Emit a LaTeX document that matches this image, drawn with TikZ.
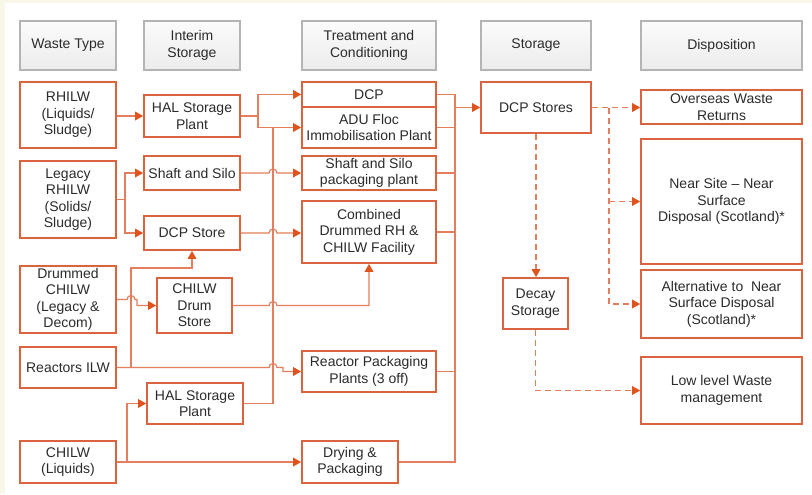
\documentclass[tikz,border=0pt]{standalone}
\usepackage{fontspec}
\setmainfont{Liberation Sans}
\usetikzlibrary{arrows.meta,calc}
\definecolor{boxc}{HTML}{DA6440}
\definecolor{linec}{HTML}{E57E5C}
\definecolor{arrc}{HTML}{E0531C}
\definecolor{hdrb}{HTML}{B4B4B4}
\definecolor{cream}{HTML}{F8F7E9}
\definecolor{txt}{HTML}{2B2B2B}
\begin{document}
\begin{tikzpicture}[x=0.75pt,y=-0.75pt,
  every node/.style={font=\fontsize{10.5}{12.4}\selectfont, text=txt, align=center, inner sep=0pt},
  sz/.style 2 args={minimum width=#1*0.75pt, minimum height=#2*0.75pt},
  box/.style={draw=boxc, line width=1.3pt, fill=white},
  hdr/.style={draw=hdrb, line width=1.4pt, top color=gray!3, bottom color=gray!15, sz={#1}{49}},
  conn/.style={draw=linec, line width=0.9pt},
  dconn/.style={conn, dash pattern=on 4.5pt off 3pt},
  arr/.style={-{Triangle[length=6pt,width=6.5pt,color=arrc]}}]
\useasboundingbox (0,0) rectangle (812,494);
\fill[cream] (0,0) rectangle (812,494);
\fill[white] (5,3) rectangle (812,494);
% junction coordinates
\coordinate (ja) at (258,0);
\coordinate (jb) at (273,0);
\coordinate (jc) at (125,0);
\coordinate (jd) at (131,0);
\coordinate (je) at (0,268);
\coordinate (jf) at (127,0);
\coordinate (jg) at (455,0);
\coordinate (jh) at (609,0);
% headers
\node[hdr=96] (h1) at (68,45.5) {Waste Type};
\node[hdr=96] (h2) at (192,45.5) {Interim\\Storage};
\node[hdr=134] (h3) at (369,45.5) {Treatment and\\Conditioning};
\node[hdr=110] (h4) at (536,45.5) {Storage};
\node[hdr=161] (h5) at (721.5,45.5) {Disposition};
% waste type
\node[box, sz={96}{66}] (rhilw) at (68,115) {RHILW\\(Liquids/\\Sludge)};
\node[box, sz={96}{77}] (legacy) at (68,199.5) {Legacy\\RHILW\\(Solids/\\Sludge)};
\node[box, sz={96}{67}] (drummed) at (68,299.5) {Drummed\\CHILW\\(Legacy \&\\Decom)};
\node[box, sz={96}{41}] (reactors) at (68,367.5) {Reactors ILW};
\node[box, sz={96}{42}] (chilw) at (68,462) {CHILW\\(Liquids)};
% interim storage
\node[box, sz={96}{42}] (hal1) at (192,116) {HAL Storage\\Plant};
\node[box, sz={96}{34}] (shaft) at (192,173) {Shaft and Silo};
\node[box, sz={96}{34}] (dcpstore) at (192,233) {DCP Store};
\node[box, sz={75}{55}] (drumstore) at (194.5,305.5) {CHILW\\Drum\\Store};
\node[box, sz={96}{41}] (hal2) at (195,403.5) {HAL Storage\\Plant};
% treatment
\node[box, sz={134}{25}] (dcp) at (369,94.5) {DCP};
\node[box, sz={134}{41}] (adu) at (369,127.5) {ADU Floc\\Immobilisation Plant};
\node[box, sz={134}{34}] (pkg) at (369,173) {Shaft and Silo\\packaging plant};
\node[box, sz={134}{62}] (combined) at (369,232) {Combined\\Drummed RH \&\\CHILW Facility};
\node[box, sz={134}{41}] (rpp) at (369,371.5) {Reactor Packaging\\Plants (3 off)};
\node[box, sz={96}{42}] (drying) at (350,462) {Drying \&\\Packaging};
% storage
\node[box, sz={110}{51}] (dcpstores) at (536,107.5) {DCP Stores};
\node[box, sz={65}{51}] (decay) at (535.5,303.5) {Decay\\Storage};
% disposition
\node[box, sz={161}{34}] (overseas) at (721.5,107) {Overseas Waste\\Returns};
\node[box, sz={161}{125}] (nearsite) at (721.5,201.5) {Near Site -- Near\\Surface\\Disposal (Scotland)*};
\node[box, sz={161}{68}] (alt) at (721.5,304) {Alternative to\ \ Near\\Surface Disposal\\(Scotland)*};
\node[box, sz={161}{67}] (lowlevel) at (721.5,390.5) {Low level Waste\\management};
% connectors: waste type -> interim
\draw[conn,arr] (rhilw.east |- hal1.west) -- (hal1.west);
\draw[conn,arr] (legacy.east) -- (legacy.east -| jc) |- (shaft.west);
\draw[conn,arr] (legacy.east -| jc) |- (dcpstore.west);
\draw[conn,arr] (drummed.east) -- ($(drummed.east -| jd)+(-4,0)$)
  .. controls +(0,-5.3) and +(0,-5.3) .. ($(drummed.east -| jd)+(4,0)$)
  -- ($(drummed.east -| jd)+(6,0)$) |- (drumstore.west);
\draw[conn,arr] (reactors.east -| jd) -- (jd |- je) -| (dcpstore.south);
\draw[conn,arr] (reactors.east) -- ($(reactors.east -| jb)+(-4,0)$)
  .. controls +(0,-5.3) and +(0,-5.3) .. ($(reactors.east -| jb)+(4,0)$)
  -- ($(reactors.east -| jb)+(10,0)$) |- (rpp.west);
\draw[conn,arr] (chilw.east) -- (drying.west);
\draw[conn,arr] (chilw.east -| jf) |- (hal2.west);
% interim -> treatment
\draw[conn,arr] (hal1.east) -- (hal1.east -| ja) |- (dcp.west);
\draw[conn,arr] (hal1.east -| ja) |- (adu.west);
\draw[conn] (hal2.east) -| (jb |- adu.west);
\draw[conn,arr] (shaft.east) -- ($(shaft.east -| jb)+(-4,0)$)
  .. controls +(0,-5.3) and +(0,-5.3) .. ($(shaft.east -| jb)+(4,0)$) -- (pkg.west);
\draw[conn,arr] (dcpstore.east) -- ($(dcpstore.east -| jb)+(-4,0)$)
  .. controls +(0,-5.3) and +(0,-5.3) .. ($(dcpstore.east -| jb)+(4,0)$) -- (dcpstore.east -| combined.west);
\draw[conn,arr] (drumstore.east) -- ($(drumstore.east -| jb)+(-4,0)$)
  .. controls +(0,-5.3) and +(0,-5.3) .. ($(drumstore.east -| jb)+(4,0)$)
  -- (drumstore.east -| combined.south) -- (combined.south);
% treatment -> storage bus
\draw[conn] (dcp.east) -- (dcp.east -| jg) -- (drying.east -| jg) -- (drying.east);
\foreach \n in {adu,pkg,combined,rpp} \draw[conn] (\n.east) -- (\n.east -| jg);
\draw[conn,arr] (jg |- dcpstores.west) -- (dcpstores.west);
% storage -> disposition
\draw[dconn,arr] (dcpstores.east) -- (overseas.west |- dcpstores.east);
\draw[dconn,arr] (dcpstores.east -| jh) |- (alt.west);
\draw[dconn,arr] (jh |- nearsite.west) -- (nearsite.west);
\draw[dconn,arr] (dcpstores.south) -- (dcpstores.south |- decay.north);
\draw[dconn,arr] (decay.south) |- (lowlevel.west);
\end{tikzpicture}
\end{document}
